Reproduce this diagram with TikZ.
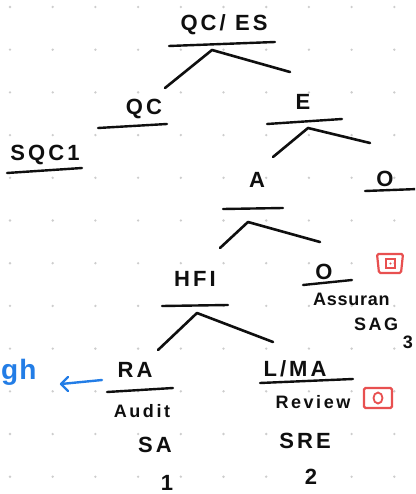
\documentclass[tikz,border=0pt]{standalone}
\usepackage{fontspec}
\newfontfamily\hand[LetterSpace=14]{Liberation Sans}
\newfontfamily\handtight[LetterSpace=4]{Liberation Sans}
\definecolor{ink}{RGB}{15,15,15}
\definecolor{penblue}{RGB}{35,125,230}
\definecolor{penred}{RGB}{232,80,80}
\definecolor{dotc}{RGB}{205,205,205}
\tikzset{
  lbl/.style={inner sep=0pt, text=ink, font=\hand\bfseries\fontsize{22}{24}\selectfont},
  small/.style={lbl, font=\hand\bfseries\fontsize{18}{20}\selectfont},
  uline/.style={draw=ink, line width=2.4pt, line cap=round},
  branch/.style={draw=ink, line width=2.6pt, line cap=round, line join=round},
  redbox/.style={draw=penred, line width=2.2pt, rounded corners=1.5pt},
}
\begin{document}
\begin{tikzpicture}[x=1pt,y=-1pt]
\clip (0,0) rectangle (415,494);
\fill[white] (0,0) rectangle (415,494);
% dotted grid
\foreach \i in {0,...,9} {
  \foreach \j in {0,...,11} {
    \fill[dotc] ({10+42.7*\i},{7+42.7*\j}) circle (1.3pt);
  }
}
% texts
\node[lbl] (qces) at (224,25) {QC/ ES};
\node[lbl] (qc) at (144,109) {QC};
\node[lbl] (sqc) at (45,155) {SQC1};
\node[lbl] (e) at (303,102) {E};
\node[lbl] (a) at (257,180) {A};
\node[lbl] (o1) at (385,179) {O};
\node[lbl] (hfi) at (195,279) {HFI};
\node[lbl] (o2) at (324,272) {O};
\node[small, font=\handtight\bfseries\fontsize{18}{20}\selectfont, anchor=west] (assur) at (313,299) {Assuran};
\node[small, anchor=west] (sag) at (354,324) {SAG};
\node[small, anchor=east] (three) at (413,342) {3};
\node[lbl] (ra) at (135,370) {RA};
\node[small] (audit) at (142,411) {Audit};
\node[lbl] (sa) at (155,445) {SA};
\node[lbl] (one) at (167,483) {1};
\node[lbl] (lma) at (295,369) {L/MA};
\node[small] (review) at (313,402) {Review};
\node[lbl] (sre) at (305,441) {SRE};
\node[lbl] (two) at (311,477) {2};
\node[lbl, text=penblue, font=\handtight\bfseries\fontsize{28}{30}\selectfont, anchor=west] (gh) at (1,372) {gh};
% underlines
\coordinate (u1a) at (169,46); \coordinate (u1b) at (275,42);
\coordinate (u2a) at (98,128); \coordinate (u2b) at (167,124);
\coordinate (u3a) at (7,173); \coordinate (u3b) at (82,168);
\coordinate (u4a) at (267,124); \coordinate (u4b) at (342,119);
\coordinate (u5a) at (223,209); \coordinate (u5b) at (283,208);
\coordinate (u6a) at (365,191); \coordinate (u6b) at (418,189);
\coordinate (u7a) at (162,306); \coordinate (u7b) at (228,305);
\coordinate (u8a) at (303,285); \coordinate (u8b) at (352,280);
\coordinate (u9a) at (107,392); \coordinate (u9b) at (173,388);
\coordinate (u10a) at (260,383); \coordinate (u10b) at (353,379);
\foreach \k in {1,...,10} { \draw[uline] (u\k a) -- (u\k b); }
% branches
\coordinate (p1) at (212,50); \coordinate (p1l) at (165,88); \coordinate (p1r) at (290,72);
\coordinate (p2) at (308,128); \coordinate (p2l) at (273,157); \coordinate (p2r) at (370,143);
\coordinate (p3) at (248,222); \coordinate (p3l) at (220,248); \coordinate (p3r) at (320,242);
\coordinate (p4) at (197,313); \coordinate (p4l) at (158,350); \coordinate (p4r) at (273,342);
\foreach \k in {1,...,4} { \draw[branch] (p\k l) -- (p\k) -- (p\k r); }
% blue arrow
\coordinate (arrs) at (102,380); \coordinate (arre) at (61,384);
\draw[draw=penblue, line width=2.4pt, line cap=round, line join=round] (arrs) -- (arre);
\draw[draw=penblue, line width=2.4pt, line cap=round, line join=round] (68,377) -- (arre) -- (68,391);
% red boxes
\draw[redbox] (377,254) -- (403,254) -- (401,273) -- (379,273) -- cycle;
\draw[draw=penred, line width=1.6pt] (386,259) rectangle (395,268);
\fill[penred] (390.5,263.5) circle (1.2pt);
\draw[redbox] (364,388) rectangle (392,408);
\draw[draw=penred, line width=1.8pt] (378,398) ellipse (4.5pt and 5.5pt);
\end{tikzpicture}
\end{document}
